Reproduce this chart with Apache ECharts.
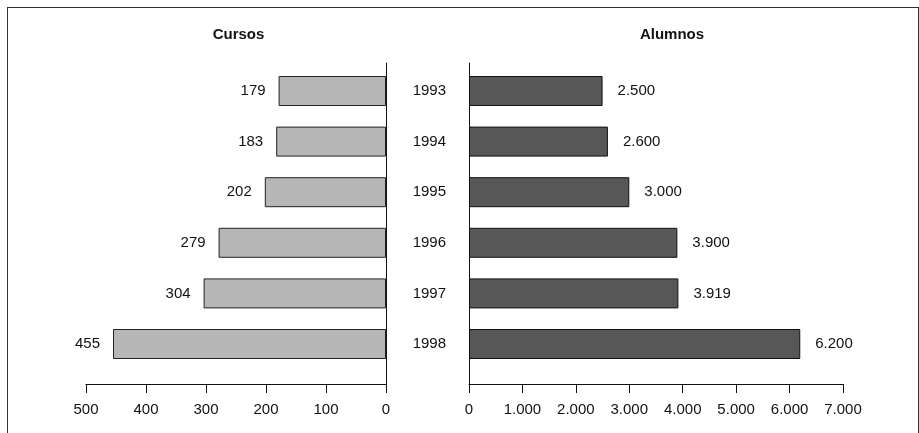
<!DOCTYPE html>
<html>
<head>
<meta charset="utf-8">
<script src="https://cdn.jsdelivr.net/npm/echarts@6/dist/echarts.min.js"></script>
<style>
  html, body { margin: 0; padding: 0; background: #fff; }
  #frame { position: absolute; left: 7px; top: 7px; width: 912px; height: 440px; border: 1px solid #333; box-sizing: border-box; }
  #chart { position: absolute; left: 0; top: 0; width: 919px; height: 433px; }
</style>
</head>
<body>
<div id="frame"></div>
<div id="chart"></div>
<script>
// Courses and students per year
const years = ['1993', '1994', '1995', '1996', '1997', '1998'];
const cursos = [179, 183, 202, 279, 304, 455];
const alumnos = [2500, 2600, 3000, 3900, 3919, 6200];
const cursosTicks = { min: 0, max: 500, interval: 100 };
const alumnosTicks = { min: 0, max: 7000, interval: 1000 };

const FONT = '"Liberation Sans", Arial, sans-serif';
const INK = '#111';

// thousands with a dot, as in Spanish notation
function miles(v) {
  return String(Math.round(v)).replace(/\B(?=(\d{3})+(?!\d))/g, '.');
}

const chart = echarts.init(document.getElementById('chart'), null, { renderer: 'canvas' });

// grids 0/1: axis frames; grids 2/3: bar bands
const grids = [
  { left: 86, top: 63, width: 300, height: 321 },
  { left: 469, top: 63, width: 374, height: 321 },
  { left: 86, top: 65.7, width: 300, height: 303.6 },
  { left: 469, top: 65.7, width: 374, height: 303.6 }
];

const axisLabel = { color: INK, fontFamily: FONT, fontSize: 15 };

const option = {
  animation: false,
  backgroundColor: 'transparent',
  title: [
    { text: 'Cursos', left: 233.5, top: 22, textAlign: 'center',
      textStyle: { fontFamily: FONT, fontSize: 15, fontWeight: 'bold', color: INK } },
    { text: 'Alumnos', left: 667, top: 22, textAlign: 'center',
      textStyle: { fontFamily: FONT, fontSize: 15, fontWeight: 'bold', color: INK } }
  ],
  grid: grids,
  xAxis: [
    { gridIndex: 0, type: 'value', inverse: true, min: cursosTicks.min, max: cursosTicks.max, interval: cursosTicks.interval,
      position: 'bottom',
      axisLine: { show: true, lineStyle: { color: INK, width: 1 } },
      axisTick: { show: true, length: 9, lineStyle: { color: INK } },
      axisLabel: Object.assign({ margin: 18 }, axisLabel),
      splitLine: { show: false } },
    { gridIndex: 1, type: 'value', min: alumnosTicks.min, max: alumnosTicks.max, interval: alumnosTicks.interval,
      position: 'bottom',
      axisLine: { show: true, lineStyle: { color: INK, width: 1 } },
      axisTick: { show: true, length: 9, lineStyle: { color: INK } },
      axisLabel: Object.assign({ margin: 18, formatter: miles }, axisLabel),
      splitLine: { show: false } },
    { gridIndex: 2, type: 'value', inverse: true, min: cursosTicks.min, max: cursosTicks.max, show: false },
    { gridIndex: 3, type: 'value', min: alumnosTicks.min, max: alumnosTicks.max, show: false }
  ],
  yAxis: [
    { gridIndex: 0, type: 'value', position: 'right', min: 0, max: 1,
      axisLine: { show: true, lineStyle: { color: INK, width: 1 } },
      axisTick: { show: false }, axisLabel: { show: false }, splitLine: { show: false } },
    { gridIndex: 1, type: 'value', position: 'left', min: 0, max: 1,
      axisLine: { show: true, lineStyle: { color: INK, width: 1 } },
      axisTick: { show: false }, axisLabel: { show: false }, splitLine: { show: false } },
    { gridIndex: 2, type: 'category', data: years, inverse: true, show: false },
    { gridIndex: 3, type: 'category', data: years, inverse: true, position: 'left',
      axisLine: { show: false }, axisTick: { show: false },
      axisLabel: Object.assign({ margin: 23 }, axisLabel), splitLine: { show: false } }
  ],
  series: [
    { type: 'bar', xAxisIndex: 2, yAxisIndex: 2, data: cursos, barWidth: 30,
      itemStyle: { color: '#b6b6b6', borderColor: '#222', borderWidth: 1 },
      label: { show: true, position: 'left', distance: 13, color: INK, fontFamily: FONT, fontSize: 15 } },
    { type: 'bar', xAxisIndex: 3, yAxisIndex: 3, data: alumnos, barWidth: 30,
      itemStyle: { color: '#575757', borderColor: '#111', borderWidth: 1 },
      label: { show: true, position: 'right', distance: 15, color: INK, fontFamily: FONT, fontSize: 15,
               formatter: p => miles(p.value) } }
  ]
};

chart.setOption(option);
</script>
</body>
</html>
